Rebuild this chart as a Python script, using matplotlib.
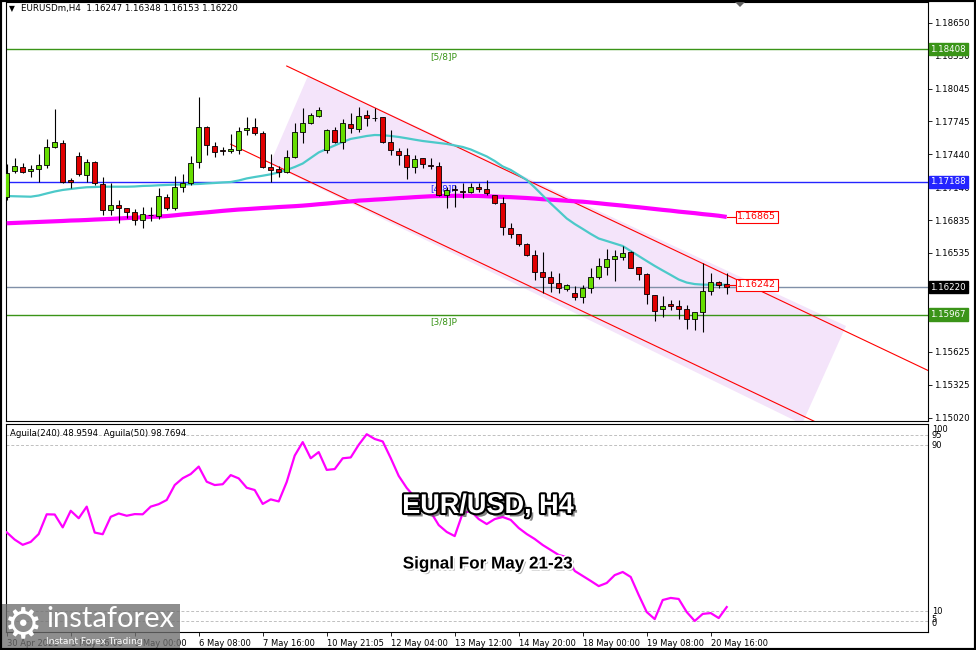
import numpy as np
import matplotlib
matplotlib.use("Agg")
import matplotlib.pyplot as plt
from matplotlib.patches import Rectangle, Polygon
import matplotlib.patheffects as pe

# Bougies H4 EURUSD
opens = [1.17051, 1.17287, 1.17327, 1.17287, 1.17302, 1.17339, 1.17505, 1.17542, 1.17205, 1.17425,
         1.17250, 1.17372, 1.17165, 1.16929, 1.16975, 1.16945, 1.16908, 1.16837, 1.16886, 1.16877,
         1.17051, 1.16945, 1.17143, 1.17174, 1.17372, 1.17695, 1.17520, 1.17480, 1.17474, 1.17480,
         1.17664, 1.17695, 1.17639, 1.17327, 1.17302, 1.17280, 1.17419, 1.17649, 1.17726, 1.17796,
         1.17480, 1.17668, 1.17557, 1.17716, 1.17673, 1.17799, 1.17778, 1.17781, 1.17557, 1.17474,
         1.17431, 1.17321, 1.17404, 1.17342, 1.17336, 1.17067, 1.17119, 1.17104, 1.17097, 1.17143,
         1.17119, 1.17067, 1.16991, 1.16766, 1.16708, 1.16613, 1.16515, 1.16357, 1.16311, 1.16256,
         1.16203, 1.16163, 1.16127, 1.16210, 1.16311, 1.16409, 1.16478, 1.16500, 1.16545, 1.16402,
         1.16341, 1.16148, 1.16019, 1.16062, 1.16050, 1.16016, 1.15924, 1.15994, 1.16188, 1.16271,
         1.16247]
highs = [1.17351, 1.17409, 1.17363, 1.17342, 1.17440, 1.17578, 1.17854, 1.17572, 1.17221, 1.17464,
         1.17394, 1.17379, 1.17229, 1.17174, 1.17021, 1.16945, 1.16938, 1.16959, 1.16959, 1.17128,
         1.17076, 1.17241, 1.17257, 1.17425, 1.17971, 1.17701, 1.17551, 1.17511, 1.17625, 1.17689,
         1.17781, 1.17772, 1.17658, 1.17443, 1.17333, 1.17480, 1.17726, 1.17864, 1.17823, 1.17873,
         1.17677, 1.17689, 1.17762, 1.17818, 1.17879, 1.17848, 1.17864, 1.17787, 1.17664, 1.17496,
         1.17496, 1.17434, 1.17404, 1.17404, 1.17367, 1.17143, 1.17159, 1.17174, 1.17174, 1.17174,
         1.17205, 1.17067, 1.17051, 1.16807, 1.16708, 1.16622, 1.16561, 1.16545, 1.16372, 1.16348,
         1.16249, 1.16231, 1.16240, 1.16394, 1.16492, 1.16567, 1.16561, 1.16598, 1.16555, 1.16409,
         1.16350, 1.16148, 1.16139, 1.16102, 1.16102, 1.16056, 1.15994, 1.16445, 1.16348, 1.16280,
         1.16348]
lows = [1.17021, 1.17268, 1.17266, 1.17235, 1.17189, 1.17312, 1.17495, 1.17174, 1.17129, 1.17241,
        1.17189, 1.17159, 1.16883, 1.16883, 1.16807, 1.16853, 1.16791, 1.16760, 1.16828, 1.16846,
        1.16929, 1.16929, 1.17097, 1.17159, 1.17312, 1.17434, 1.17419, 1.17434, 1.17450, 1.17440,
        1.17618, 1.17618, 1.17312, 1.17189, 1.17235, 1.17266, 1.17404, 1.17548, 1.17716, 1.17781,
        1.17450, 1.17542, 1.17486, 1.17634, 1.17643, 1.17701, 1.17744, 1.17542, 1.17434, 1.17342,
        1.17211, 1.17266, 1.17312, 1.17305, 1.17058, 1.16945, 1.16959, 1.17036, 1.17082, 1.17097,
        1.17067, 1.16984, 1.16699, 1.16676, 1.16598, 1.16506, 1.16286, 1.16163, 1.16178, 1.16163,
        1.16188, 1.16102, 1.16072, 1.16163, 1.16292, 1.16332, 1.16280, 1.16469, 1.16393, 1.16286,
        1.16062, 1.15912, 1.15948, 1.16010, 1.15924, 1.15832, 1.15826, 1.15808, 1.16148, 1.16210,
        1.16153]
closes = [1.17266, 1.17333, 1.17280, 1.17302, 1.17339, 1.17505, 1.17551, 1.17189, 1.17189, 1.17257,
          1.17372, 1.17174, 1.16929, 1.16975, 1.16945, 1.16908, 1.16837, 1.16890, 1.16881, 1.17061,
          1.16945, 1.17143, 1.17174, 1.17363, 1.17695, 1.17526, 1.17465, 1.17474, 1.17486, 1.17658,
          1.17685, 1.17634, 1.17327, 1.17296, 1.17275, 1.17419, 1.17649, 1.17726, 1.17802, 1.17848,
          1.17668, 1.17557, 1.17726, 1.17685, 1.17796, 1.17775, 1.17772, 1.17557, 1.17480, 1.17434,
          1.17321, 1.17394, 1.17351, 1.17336, 1.17067, 1.17113, 1.17113, 1.17095, 1.17143, 1.17119,
          1.17082, 1.16991, 1.16776, 1.16708, 1.16613, 1.16515, 1.16362, 1.16311, 1.16261, 1.16210,
          1.16240, 1.16127, 1.16210, 1.16311, 1.16415, 1.16478, 1.16506, 1.16536, 1.16399, 1.16341,
          1.16157, 1.16004, 1.16050, 1.16050, 1.16019, 1.15924, 1.15994, 1.16188, 1.16271, 1.16240,
          1.16220]

# Moyennes mobiles
ma_fast = [1.17057, 1.17055, 1.17053, 1.17051, 1.17062, 1.17081, 1.17099, 1.17113, 1.17122, 1.17131,
           1.17138, 1.17140, 1.17143, 1.17143, 1.17143, 1.17143, 1.17145, 1.17150, 1.17152, 1.17156,
           1.17159, 1.17162, 1.17163, 1.17166, 1.17168, 1.17173, 1.17177, 1.17182, 1.17186, 1.17200,
           1.17219, 1.17232, 1.17244, 1.17257, 1.17274, 1.17297, 1.17324, 1.17356, 1.17407, 1.17458,
           1.17490, 1.17522, 1.17554, 1.17582, 1.17595, 1.17609, 1.17618, 1.17616, 1.17609, 1.17600,
           1.17588, 1.17575, 1.17563, 1.17554, 1.17545, 1.17536, 1.17522, 1.17508, 1.17485, 1.17453,
           1.17421, 1.17379, 1.17329, 1.17297, 1.17251, 1.17205, 1.17136, 1.17062, 1.16989, 1.16920,
           1.16851, 1.16800, 1.16755, 1.16709, 1.16667, 1.16644, 1.16621, 1.16598, 1.16552, 1.16506,
           1.16460, 1.16415, 1.16373, 1.16332, 1.16290, 1.16262, 1.16248, 1.16243, 1.16242, 1.16242,
           1.16242]
ma_slow = [1.16807, 1.16810, 1.16813, 1.16816, 1.16819, 1.16822, 1.16825, 1.16828, 1.16832, 1.16834,
           1.16837, 1.16841, 1.16844, 1.16847, 1.16851, 1.16855, 1.16858, 1.16862, 1.16866, 1.16869,
           1.16873, 1.16880, 1.16888, 1.16894, 1.16901, 1.16907, 1.16914, 1.16921, 1.16927, 1.16933,
           1.16937, 1.16942, 1.16947, 1.16951, 1.16956, 1.16960, 1.16964, 1.16969, 1.16975, 1.16982,
           1.16988, 1.16995, 1.17002, 1.17008, 1.17015, 1.17019, 1.17024, 1.17028, 1.17033, 1.17038,
           1.17042, 1.17047, 1.17051, 1.17055, 1.17057, 1.17058, 1.17059, 1.17059, 1.17059, 1.17058,
           1.17055, 1.17052, 1.17049, 1.17047, 1.17043, 1.17039, 1.17034, 1.17028, 1.17024, 1.17019,
           1.17014, 1.17009, 1.17005, 1.16998, 1.16991, 1.16983, 1.16976, 1.16969, 1.16961, 1.16954,
           1.16946, 1.16938, 1.16930, 1.16923, 1.16914, 1.16907, 1.16900, 1.16891, 1.16884, 1.16876,
           1.16865]

# Indicateur Aguila
aguila = [47.9, 44.4, 41.9, 43.3, 47.1, 56.6, 56.5, 50.3, 58.3, 54.7,
          60.3, 47.8, 47.0, 55.4, 57.0, 55.9, 56.7, 56.6, 60.3, 61.5,
          63.5, 70.7, 74.0, 76.0, 79.6, 72.3, 70.7, 71.1, 75.5, 73.9,
          69.4, 68.3, 61.6, 63.8, 62.8, 72.2, 84.9, 91.4, 83.6, 86.6,
          78.0, 78.4, 83.6, 84.0, 90.1, 95.2, 92.9, 91.7, 83.7, 75.1,
          69.3, 64.9, 61.1, 57.7, 51.4, 48.1, 46.1, 57.2, 58.2, 54.3,
          51.9, 54.3, 55.3, 53.9, 50.0, 47.1, 44.7, 41.8, 39.4, 37.0,
          36.0, 29.3, 26.9, 24.5, 22.0, 23.5, 27.3, 28.8, 26.4, 17.7,
          9.5, 6.1, 15.3, 16.3, 15.8, 9.5, 5.2, 8.6, 9.0, 6.6,
          11.9]
aguila_levels = [95, 90, 10, 5]

# Niveaux Murrey et canal
level_58 = 1.18408
level_48 = 1.17188
level_38 = 1.15967
last_price = 1.16220
chan_upper_x = [35, 125]
chan_upper_y = [1.18252, 1.15111]
chan_lower_x = [28, 110]
chan_lower_y = [1.17533, 1.14671]
chan_fill_x = [37.66, 104.91, 99.41, 32.91]
chan_fill_y = [1.18161, 1.15863, 1.14962, 1.17352]

price_ticks = [1.18650, 1.18350, 1.18045, 1.17745, 1.17440, 1.17140, 1.16835,
               1.16535, 1.16230, 1.15930, 1.15625, 1.15325, 1.15020]
time_ticks = [0, 8, 16, 24, 32, 40, 48, 56, 64, 72, 80, 88]
time_labels = ["30 Apr 2021", "3 May 16:00", "5 May 00:00", "6 May 08:00", "7 May 16:00",
               "10 May 21:05", "12 May 04:00", "13 May 12:00", "14 May 20:00",
               "18 May 00:00", "19 May 08:00", "20 May 16:00"]

W, H = 976, 650
GREEN = "#3a9418"
BLUE = "#2424ff"
CANDLE_UP = "#66dd00"
CANDLE_DN = "#e00000"

def fx(x):
    return x / W

def fy(y):
    return 1 - y / H

fig = plt.figure(figsize=(W / 100, H / 100), dpi=100)
ax = fig.add_axes([6 / W, 1 - 421 / H, 922 / W, 419 / H])
ax2 = fig.add_axes([6 / W, 1 - 631.75 / H, 922 / W, 207.5 / H])

idx = np.arange(len(opens))
o = np.array(opens)
c = np.array(closes)

# canal (zone rose + lignes rouges)
ax.fill(chan_fill_x, chan_fill_y, color="#f4e4fa", lw=0, zorder=1)
ax.plot(chan_upper_x, chan_upper_y, color="red", lw=0.8, zorder=2.5)
ax.plot(chan_lower_x, chan_lower_y, color="red", lw=0.8, zorder=2.5)

# niveaux horizontaux
ax.axhline(level_58, color=GREEN, lw=1, zorder=2)
ax.axhline(level_48, color=BLUE, lw=1, zorder=2)
ax.axhline(last_price, color="#8090a8", lw=1, zorder=2)
ax.axhline(level_38, color=GREEN, lw=1, zorder=2)
ax.text(54.6, 1.18335, "[5/8]P", color=GREEN, fontsize=6.5, ha="center", va="center", zorder=2)
ax.text(54.6, 1.17122, "[4/8]P", color=BLUE, fontsize=6.5, ha="center", va="center", zorder=2)
ax.text(54.6, 1.15900, "[3/8]P", color=GREEN, fontsize=6.5, ha="center", va="center", zorder=2)

# moyennes mobiles
ax.plot(idx, ma_slow, color="#ff00ff", lw=3, zorder=3, solid_capstyle="butt")
ax.plot(idx, ma_fast, color="#4cc9c9", lw=1.6, zorder=3.2)

# bougies
ax.vlines(idx, lows, highs, color="black", lw=0.8, zorder=4)
up = c >= o
ax.bar(idx, np.abs(c - o), bottom=np.minimum(o, c), width=0.62,
       color=np.where(up, CANDLE_UP, CANDLE_DN), edgecolor="black", lw=0.6, zorder=5)

# étiquettes rouges à droite des moyennes
last = idx[-1]
for val in [ma_slow[-1], ma_fast[-1]]:
    ax.plot([last, last + 1.3], [val, val], color="red", lw=0.8, zorder=6)
    ax.text(last + 1.3, val, f"{val:.5f}", color="red", fontsize=6.8, ha="left", va="center",
            zorder=7, bbox=dict(boxstyle="square,pad=0.15", fc="white", ec="red", lw=0.8))

ax.set_xlim(-0.09, 115.16)
ax.set_ylim(1.149899, 1.188402)
ax.set_xticks([])
ax.yaxis.tick_right()
ax.set_yticks(price_ticks)
ax.set_yticklabels([f"{t:.5f}" for t in price_ticks])
ax.tick_params(axis="y", length=3, width=0.6, pad=1.5, labelsize=6.2, colors="black")
for s in ax.spines.values():
    s.set_linewidth(0.8)
    s.set_color("black")

# cases de prix sur l'axe
yt = ax.get_yaxis_transform()
for val, bg in [(level_58, GREEN), (level_48, BLUE), (last_price, "black"), (level_38, GREEN)]:
    ax.text(1.0025, val, f"{val:.5f}", transform=yt, fontsize=6.2, color="white", ha="left",
            va="center", clip_on=False, zorder=10,
            bbox=dict(boxstyle="square,pad=0.2", fc=bg, ec=bg))

# panneau de l'indicateur
for lv in aguila_levels:
    ax2.axhline(lv, color="#c0c0c0", lw=0.7, ls=(0, (3, 2)), zorder=1)
ax2.plot(idx, aguila, color="#ff00ff", lw=1.6, zorder=3)
ax2.set_xlim(-0.09, 115.16)
ax2.set_ylim(0, 100)
ax2.set_yticks([])
ax2.set_xticks(time_ticks)
ax2.set_xticklabels(time_labels, fontsize=6, ha="left")
ax2.tick_params(axis="x", length=3, width=0.6, pad=2)
for s in ax2.spines.values():
    s.set_linewidth(0.8)
    s.set_color("black")
yt2 = ax2.get_yaxis_transform()
for v, lab in [(97.3, "100"), (94.8, "95"), (90, "90"), (10, "10"), (5.8, "5"), (3.8, "0")]:
    ax2.text(1.004, v, lab, transform=yt2, fontsize=6, ha="left", va="center", clip_on=False)

# textes d'en-tête
fig.text(fx(9), fy(9), "\u25bc", fontsize=5.5, va="center")
fig.text(fx(21), fy(9), "EURUSDm,H4  1.16247 1.16348 1.16153 1.16220", fontsize=6.3, va="center")
fig.text(fx(10), fy(433), "Aguila(240) 48.9594  Aguila(50) 98.7694", fontsize=6.2, va="center")

# titres au centre
fig.text(fx(488), fy(506), "EUR/USD, H4", ha="center", va="center", fontsize=19.5,
         family="Liberation Sans", weight="bold", color="white", zorder=8,
         path_effects=[pe.SimplePatchShadow(offset=(2.5, -2.5), shadow_rgbFace="#505050", alpha=0.7),
                       pe.Stroke(linewidth=3, foreground="black"), pe.Normal()])
fig.text(fx(488), fy(564), "Signal For May 21-23", ha="center", va="center", fontsize=12.3,
         family="Liberation Sans", weight="bold", color="black", zorder=8,
         path_effects=[pe.SimplePatchShadow(offset=(1.5, -1.5), shadow_rgbFace="#808080", alpha=0.6),
                       pe.Stroke(linewidth=2.5, foreground="white"), pe.Normal()])

# filigrane instaforex
fig.patches.append(Rectangle((0, 0), fx(180), 46 / H, transform=fig.transFigure,
                             fc="#6e6e6e", alpha=0.78, lw=0, zorder=9))
fig.text(fx(23), fy(625), "\u2699", fontsize=31, color="white", ha="center", va="center", zorder=10)
fig.text(fx(46), fy(619), "instaforex", fontsize=21, family="Lato", weight="normal",
         color="white", va="center", zorder=10)
fig.text(fx(46), fy(641), "Instant Forex Trading", fontsize=6.6, color="white", va="center", zorder=10)

# petit triangle en haut et cadre
fig.patches.append(Polygon([(fx(733), fy(0)), (fx(747), fy(0)), (fx(740), fy(7))],
                           transform=fig.transFigure, fc="#606060", lw=0, zorder=10))
fig.patches.append(Rectangle((0, 0), 1, 1, transform=fig.transFigure, fill=False,
                             ec="black", lw=3, zorder=11))

fig.savefig("out.png", dpi=100)
